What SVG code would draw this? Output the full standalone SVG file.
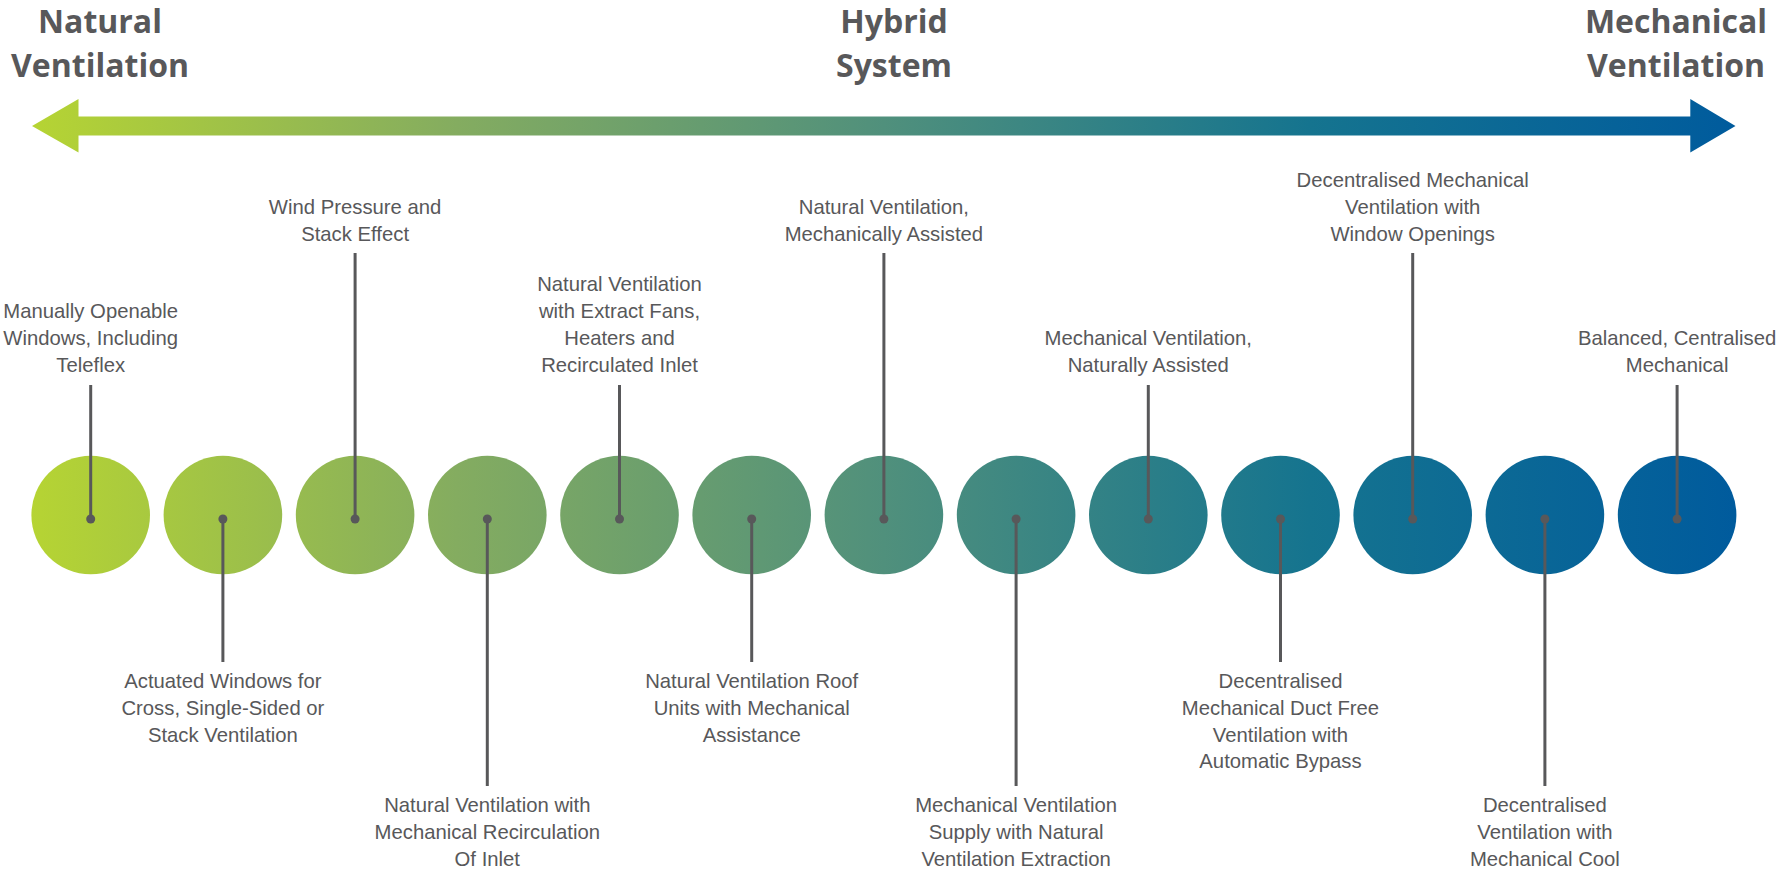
<svg xmlns="http://www.w3.org/2000/svg" width="1789" height="872" viewBox="0 0 1789 872">
<defs>
<linearGradient id="g" gradientUnits="userSpaceOnUse" x1="31" y1="0" x2="1736" y2="0">
<stop offset="0" stop-color="#b6d433"/>
<stop offset="0.25" stop-color="#84ac60"/>
<stop offset="0.5" stop-color="#50907c"/>
<stop offset="0.75" stop-color="#15748f"/>
<stop offset="1" stop-color="#005b9d"/>
</linearGradient>
<style>
.hd{font-family:"Open Sans","Liberation Sans",sans-serif;font-weight:bold;font-size:32px;fill:#58585a;text-anchor:middle}
.lb{font-family:"Liberation Sans",Arial,sans-serif;font-size:20.3px;fill:#58585a;text-anchor:middle}
.c{fill:url(#g)}
.ln{stroke:#58585a;stroke-width:3;fill:none}
.dot{fill:#58585a}
</style>
</defs>
<rect width="1789" height="872" fill="#ffffff"/>
<g id="headers">
<text class="hd" x="100" y="33">Natural</text>
<text class="hd" x="100" y="77">Ventilation</text>
<text class="hd" x="894" y="33">Hybrid</text>
<text class="hd" x="894" y="77">System</text>
<text class="hd" x="1676" y="33">Mechanical</text>
<text class="hd" x="1676" y="77">Ventilation</text>
</g>
<g id="arrow">
<path d="M32,126 L78.5,99 L78.5,116.5 L1690.3,116.5 L1690.3,99 L1735.5,126 L1690.3,152.5 L1690.3,135.5 L78.5,135.5 L78.5,152.5 Z" fill="url(#g)"/>
</g>
<g id="n1"><circle class="c" cx="90.7" cy="515" r="59.3"/>
<text class="lb" x="90.7" y="318">Manually Openable</text><text class="lb" x="90.7" y="345">Windows, Including</text><text class="lb" x="90.7" y="372">Teleflex</text></g>
<g id="n2"><circle class="c" cx="222.9" cy="515" r="59.3"/>
<text class="lb" x="222.9" y="688">Actuated Windows for</text><text class="lb" x="222.9" y="715">Cross, Single-Sided or</text><text class="lb" x="222.9" y="742">Stack Ventilation</text></g>
<g id="n3"><circle class="c" cx="355.1" cy="515" r="59.3"/>
<text class="lb" x="355.1" y="214">Wind Pressure and</text><text class="lb" x="355.1" y="241">Stack Effect</text></g>
<g id="n4"><circle class="c" cx="487.3" cy="515" r="59.3"/>
<text class="lb" x="487.3" y="812">Natural Ventilation with</text><text class="lb" x="487.3" y="839">Mechanical Recirculation</text><text class="lb" x="487.3" y="866">Of Inlet</text></g>
<g id="n5"><circle class="c" cx="619.5" cy="515" r="59.3"/>
<text class="lb" x="619.5" y="291">Natural Ventilation</text><text class="lb" x="619.5" y="318">with Extract Fans,</text><text class="lb" x="619.5" y="345">Heaters and</text><text class="lb" x="619.5" y="372">Recirculated Inlet</text></g>
<g id="n6"><circle class="c" cx="751.7" cy="515" r="59.3"/>
<text class="lb" x="751.7" y="688">Natural Ventilation Roof</text><text class="lb" x="751.7" y="715">Units with Mechanical</text><text class="lb" x="751.7" y="742">Assistance</text></g>
<g id="n7"><circle class="c" cx="883.9" cy="515" r="59.3"/>
<text class="lb" x="883.9" y="214">Natural Ventilation,</text><text class="lb" x="883.9" y="241">Mechanically Assisted</text></g>
<g id="n8"><circle class="c" cx="1016.1" cy="515" r="59.3"/>
<text class="lb" x="1016.1" y="812">Mechanical Ventilation</text><text class="lb" x="1016.1" y="839">Supply with Natural</text><text class="lb" x="1016.1" y="866">Ventilation Extraction</text></g>
<g id="n9"><circle class="c" cx="1148.3" cy="515" r="59.3"/>
<text class="lb" x="1148.3" y="345">Mechanical Ventilation,</text><text class="lb" x="1148.3" y="372">Naturally Assisted</text></g>
<g id="n10"><circle class="c" cx="1280.5" cy="515" r="59.3"/>
<text class="lb" x="1280.5" y="688">Decentralised</text><text class="lb" x="1280.5" y="715">Mechanical Duct Free</text><text class="lb" x="1280.5" y="742">Ventilation with</text><text class="lb" x="1280.5" y="768">Automatic Bypass</text></g>
<g id="n11"><circle class="c" cx="1412.7" cy="515" r="59.3"/>
<text class="lb" x="1412.7" y="187">Decentralised Mechanical</text><text class="lb" x="1412.7" y="214">Ventilation with</text><text class="lb" x="1412.7" y="241">Window Openings</text></g>
<g id="n12"><circle class="c" cx="1544.9" cy="515" r="59.3"/>
<text class="lb" x="1544.9" y="812">Decentralised</text><text class="lb" x="1544.9" y="839">Ventilation with</text><text class="lb" x="1544.9" y="866">Mechanical Cool</text></g>
<g id="n13"><circle class="c" cx="1677.1" cy="515" r="59.3"/>
<text class="lb" x="1677.1" y="345">Balanced, Centralised</text><text class="lb" x="1677.1" y="372">Mechanical</text></g>
<g id="connectors">
<line class="ln" x1="90.7" y1="385" x2="90.7" y2="519"/>
<line class="ln" x1="222.9" y1="519" x2="222.9" y2="662"/>
<line class="ln" x1="355.1" y1="253" x2="355.1" y2="519"/>
<line class="ln" x1="487.3" y1="519" x2="487.3" y2="786"/>
<line class="ln" x1="619.5" y1="385" x2="619.5" y2="519"/>
<line class="ln" x1="751.7" y1="519" x2="751.7" y2="662"/>
<line class="ln" x1="883.9" y1="253" x2="883.9" y2="519"/>
<line class="ln" x1="1016.1" y1="519" x2="1016.1" y2="786"/>
<line class="ln" x1="1148.3" y1="385" x2="1148.3" y2="519"/>
<line class="ln" x1="1280.5" y1="519" x2="1280.5" y2="662"/>
<line class="ln" x1="1412.7" y1="253" x2="1412.7" y2="519"/>
<line class="ln" x1="1544.9" y1="519" x2="1544.9" y2="786"/>
<line class="ln" x1="1677.1" y1="385" x2="1677.1" y2="519"/>
<circle class="dot" cx="90.7" cy="519" r="4.5"/>
<circle class="dot" cx="222.9" cy="519" r="4.5"/>
<circle class="dot" cx="355.1" cy="519" r="4.5"/>
<circle class="dot" cx="487.3" cy="519" r="4.5"/>
<circle class="dot" cx="619.5" cy="519" r="4.5"/>
<circle class="dot" cx="751.7" cy="519" r="4.5"/>
<circle class="dot" cx="883.9" cy="519" r="4.5"/>
<circle class="dot" cx="1016.1" cy="519" r="4.5"/>
<circle class="dot" cx="1148.3" cy="519" r="4.5"/>
<circle class="dot" cx="1280.5" cy="519" r="4.5"/>
<circle class="dot" cx="1412.7" cy="519" r="4.5"/>
<circle class="dot" cx="1544.9" cy="519" r="4.5"/>
<circle class="dot" cx="1677.1" cy="519" r="4.5"/>
</g>
</svg>
